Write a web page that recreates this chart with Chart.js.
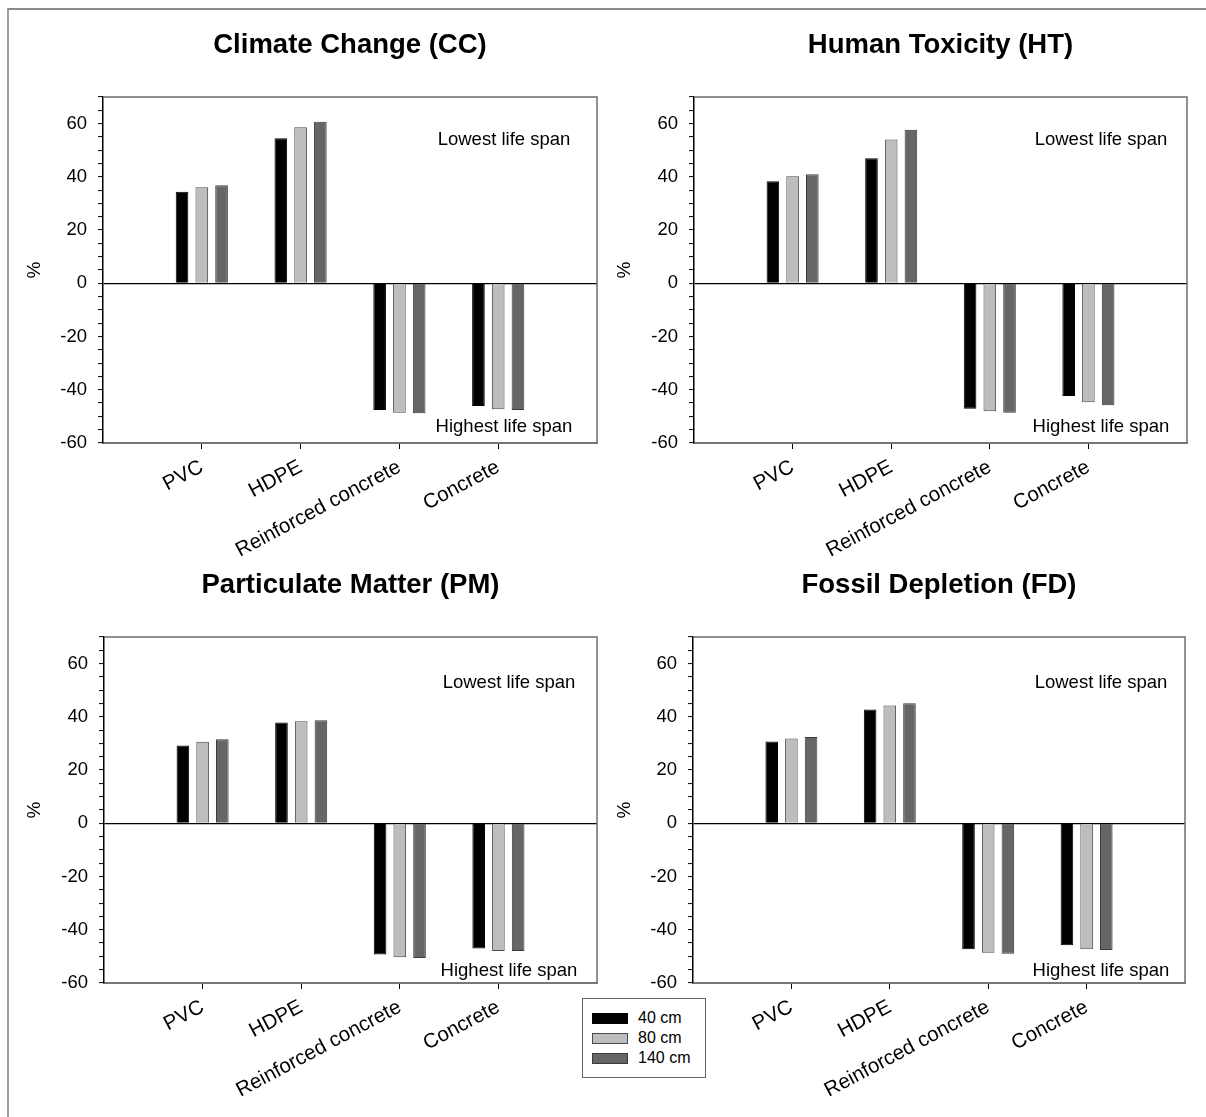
<!DOCTYPE html>
<html>
<head>
<meta charset="utf-8">
<script src="https://cdn.jsdelivr.net/npm/chart.js@4.4.1/dist/chart.umd.min.js"></script>
<style>
  html, body { margin: 0; padding: 0; background: #fff; }
  body { width: 1206px; height: 1117px; position: relative; overflow: hidden; font-family: "Liberation Sans", Arial, sans-serif; }
  .frame { position: absolute; left: 7px; top: 8px; right: 0; bottom: 0; border-top: 2px solid #8a8a8a; border-left: 2px solid #a0a0a0; }
  canvas { position: absolute; }
  #legend { position: absolute; left: 582px; top: 998px; width: 122px; height: 78px; border: 1.5px solid #666; background: #fff; }
  .li { position: absolute; left: 9px; height: 20px; font-size: 16px; color: #000; }
  .sw { position: absolute; left: 0; top: 5px; width: 36px; height: 11px; box-sizing: border-box; border: 1px solid #444; }
  .lt { position: absolute; left: 46px; top: 0px; white-space: nowrap; line-height: 20px; }
</style>
</head>
<body>
<div class="frame"></div>
<canvas id="c1"></canvas>
<canvas id="c2"></canvas>
<canvas id="c3"></canvas>
<canvas id="c4"></canvas>
<div id="legend"></div>
<script>
// ---------- data ----------
const categories = ['PVC', 'HDPE', 'Reinforced concrete', 'Concrete'];
const seriesNames = ['40 cm', '80 cm', '140 cm'];
const yTicks = [-60, -40, -20, 0, 20, 40, 60];

const cc40  = [34.4, 54.5, -47.6, -46.1];
const cc80  = [36.1, 58.6, -48.6, -47.3];
const cc140 = [36.8, 60.7, -48.8, -47.6];

const ht40  = [38.3, 47.0, -47.1, -42.3];
const ht80  = [40.2, 54.0, -48.1, -44.7];
const ht140 = [41.0, 57.7, -48.6, -45.8];

const pm40  = [29.2, 37.9, -49.3, -47.0];
const pm80  = [30.6, 38.3, -50.3, -48.0];
const pm140 = [31.6, 38.7, -50.6, -48.0];

const fd40  = [30.7, 42.8, -47.3, -45.8];
const fd80  = [31.9, 44.3, -48.6, -47.3];
const fd140 = [32.4, 45.1, -49.0, -47.6];

const titles = ['Climate Change (CC)', 'Human Toxicity (HT)', 'Particulate Matter (PM)', 'Fossil Depletion (FD)'];
const topNote = 'Lowest life span';
const bottomNote = 'Highest life span';

// ---------- styles / layout ----------
const fills   = ['#000000', '#bdbdbd', '#666666'];
const borders = ['#000000', '#4a4a4a', '#3a3a3a'];
const FONT = '"Liberation Sans", Arial, sans-serif';
Chart.defaults.font.family = FONT;
Chart.defaults.color = '#000';

const panels = [
  { id: 'c1', x0: 10,  y0: 10,  W: 600, axisLeft: 23,  plot: [103, 97, 597, 443],  series: [cc40, cc80, cc140], noteOff: 93 },
  { id: 'c2', x0: 600, y0: 10,  W: 606, axisLeft: 613, plot: [694, 97, 1187, 443], series: [ht40, ht80, ht140], noteOff: 86 },
  { id: 'c3', x0: 10,  y0: 550, W: 600, axisLeft: 23,  plot: [104, 637, 597, 983], series: [pm40, pm80, pm140], noteOff: 88, noteTop: 51, noteBot: 7 },
  { id: 'c4', x0: 600, y0: 550, W: 606, axisLeft: 613, plot: [693, 637, 1185, 983], series: [fd40, fd80, fd140], noteOff: 84, noteTop: 51, noteBot: 7 }
];
const X_AXIS_H = 125;

const notesPlugin = {
  id: 'notes',
  afterDatasetsDraw(chart, args, opts) {
    const { ctx, chartArea } = chart;
    ctx.save();
    ctx.font = '18.5px ' + FONT;
    ctx.fillStyle = '#000';
    ctx.textAlign = 'center';
    ctx.textBaseline = 'alphabetic';
    const cx = chartArea.right - opts.off;
    ctx.fillText(topNote, cx, chartArea.top + opts.top);
    ctx.fillText(bottomNote, cx, chartArea.bottom - opts.bot);
    ctx.restore();
  },
  afterDraw(chart) {
    const { ctx, chartArea } = chart;
    ctx.save();
    ctx.strokeStyle = '#6e6e6e';
    ctx.lineWidth = 1.5;
    ctx.beginPath();
    ctx.moveTo(chartArea.left, chartArea.top);
    ctx.lineTo(chartArea.right, chartArea.top);
    ctx.lineTo(chartArea.right, chartArea.bottom);
    ctx.stroke();
    ctx.restore();
  }
};

panels.forEach((p, i) => {
  const cv = document.getElementById(p.id);
  const H = (p.plot[3] - p.y0) + X_AXIS_H;
  cv.style.left = p.x0 + 'px';
  cv.style.top = p.y0 + 'px';
  cv.style.width = p.W + 'px';
  cv.style.height = H + 'px';
  cv.width = p.W; cv.height = H;

  const padLeft = p.axisLeft - p.x0;
  const yWidth = p.plot[0] - p.axisLeft;
  const padRight = (p.x0 + p.W) - p.plot[2];
  const titleFont = 27.5;
  const titleLH = titleFont * 1.2;
  const titleCenter = p.plot[1] - 52;
  const tPadTop = titleCenter - titleLH / 2 - p.y0;
  const tPadBot = p.plot[1] - p.y0 - tPadTop - titleLH;

  const labels = [''].concat(categories, ['']);
  const datasets = p.series.map((vals, k) => ({
    label: seriesNames[k],
    data: [null].concat(vals, [null]),
    backgroundColor: fills[k],
    borderColor: borders[k],
    borderWidth: 1,
    barPercentage: 0.64,
    categoryPercentage: 0.6
  }));

  new Chart(cv, {
    type: 'bar',
    data: { labels, datasets },
    plugins: [notesPlugin],
    options: {
      responsive: false,
      animation: false,
      events: [],
      layout: { padding: { left: padLeft, right: padRight, top: 0, bottom: 0 } },
      plugins: {
        legend: { display: false },
        tooltip: { enabled: false },
        title: {
          display: true, text: titles[i], fullSize: false, color: '#000',
          font: { size: titleFont, weight: 'bold', family: FONT, lineHeight: 1.2 },
          padding: { top: tPadTop, bottom: tPadBot }
        },
        notes: { off: p.noteOff, top: p.noteTop || 48, bot: p.noteBot || 11 }
      },
      scales: {
        x: {
          type: 'category',
          offset: false,
          afterBuildTicks(scale) { scale.ticks = scale.ticks.filter(t => t.value >= 1 && t.value <= categories.length); },
          afterFit(scale) { scale.height = X_AXIS_H; },
          grid: { display: true, offset: false, drawOnChartArea: false, tickLength: 6, tickColor: '#000', tickWidth: 1 },
          border: { display: true, color: '#777', width: 2 },
          ticks: { autoSkip: false, minRotation: 28, maxRotation: 28, padding: 6, color: '#000', font: { size: 20.5 } }
        },
        y: {
          min: -60, max: 70,
          afterFit(scale) { scale.width = yWidth; },
          title: { display: true, text: '%', color: '#000', font: { size: 19 }, padding: 0 },
          grid: {
            drawOnChartArea: true,
            color: ctx => (ctx.tick && ctx.tick.value === 0) ? '#000' : 'rgba(0,0,0,0)',
            lineWidth: 1.2,
            tickColor: '#000', tickLength: 5, tickWidth: 1
          },
          border: { display: true, color: '#000', width: 1.5 },
          ticks: {
            stepSize: 5, autoSkip: false, padding: 11, color: '#000', font: { size: 18.5 },
            callback: v => yTicks.includes(v) ? String(v) : ''
          }
        }
      }
    }
  });
});

// legend
const lg = document.getElementById('legend');
seriesNames.forEach((n, k) => {
  const li = document.createElement('div');
  li.className = 'li';
  li.style.top = (9 + k * 20) + 'px';
  li.innerHTML = '<div class="sw" style="background:' + fills[k] + ';border-color:' + borders[k] + '"></div><span class="lt">' + n + '</span>';
  lg.appendChild(li);
});
</script>
</body>
</html>
